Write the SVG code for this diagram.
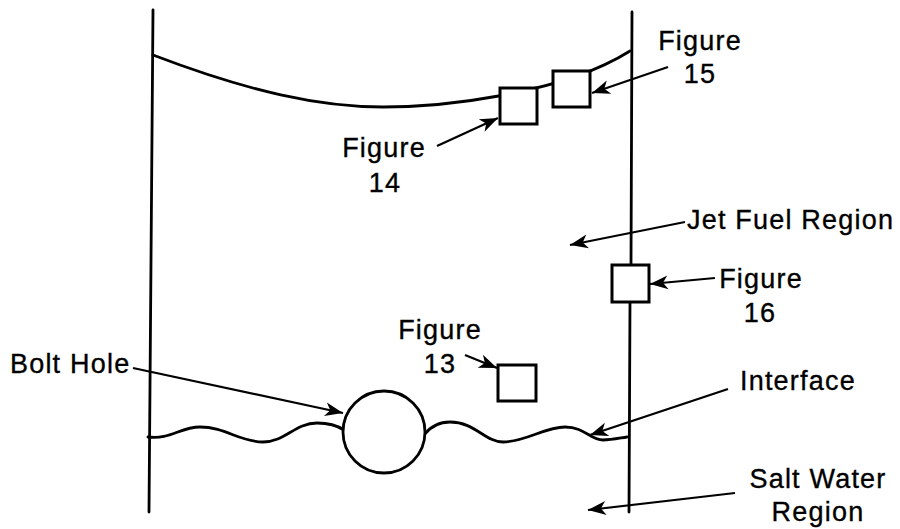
<svg xmlns="http://www.w3.org/2000/svg" width="900" height="529" viewBox="0 0 900 529">
<defs>
<style>
.ln{fill:none;stroke:#000;stroke-width:2.8;stroke-linecap:round}
.box{fill:#fff;stroke:#000;stroke-width:3}
.ar{fill:none;stroke:#000;stroke-width:2.2;marker-end:url(#ah)}
text{font-family:"Liberation Sans",Arial,sans-serif;font-size:27px;letter-spacing:1.2px;fill:#000;stroke:#000;stroke-width:0.35}
.m{text-anchor:middle}
</style>
<marker id="ah" viewBox="-19 -8 20 16" refX="0" refY="0" markerWidth="20" markerHeight="16" markerUnits="userSpaceOnUse" orient="auto">
<path d="M0,0 L-18,-7 L-13,0 L-18,7 Z" fill="#000"/>
</marker>
</defs>
<rect width="900" height="529" fill="#fff"/>
<g id="tank">
<path class="ln" d="M153,10 L149,512"/>
<path class="ln" d="M632,12 L631,265 M630,302 L629,512"/>
<path class="ln" d="M153,55 C250,92 320,107 383,107 C440,107 560,95 630,51"/>
<path class="ln" d="M148,437 C170,440 180,427 200,427 C225,427 240,442 263,442 C285,442 295,423 317,423 C330,423 338,426 344,430"/>
<path class="ln" d="M425,434 C432,425 440,422 450,422 C475,422 485,442 503,442 C525,442 545,427 565,427 C585,427 590,440 603,440 C612,440 620,438 627,437"/>
</g>
<g id="bolt-hole-circle"><circle cx="384" cy="432" r="41" fill="#fff" stroke="#000" stroke-width="2.8"/></g>
<g id="box14"><rect class="box" x="500" y="88" width="37" height="36"/></g>
<g id="box15"><rect class="box" x="553" y="71" width="37" height="36"/></g>
<g id="box16"><rect class="box" x="612" y="265" width="37" height="37"/></g>
<g id="box13"><rect class="box" x="498" y="365" width="38" height="36"/></g>
<g id="connectors">
<line class="ar" x1="437" y1="146" x2="498" y2="118"/>
<line class="ar" x1="668" y1="67" x2="592" y2="93"/>
<line class="ar" x1="685" y1="222" x2="570" y2="245"/>
<line class="ar" x1="715" y1="278" x2="650" y2="284"/>
<line class="ar" x1="465" y1="355" x2="497" y2="368"/>
<line class="ar" x1="133" y1="368" x2="343" y2="413"/>
<line class="ar" x1="728" y1="389" x2="590" y2="435"/>
<line class="ar" x1="735" y1="493" x2="588" y2="510"/>
</g>
<g id="label14"><text class="m" x="384" y="157">Figure</text><text class="m" x="385" y="192">14</text></g>
<g id="label15"><text class="m" x="700" y="50">Figure</text><text class="m" x="700" y="83">15</text></g>
<g id="label-jet"><text x="687" y="229">Jet Fuel Region</text></g>
<g id="label16"><text class="m" x="761" y="288">Figure</text><text class="m" x="760" y="322">16</text></g>
<g id="label13"><text class="m" x="440" y="339">Figure</text><text class="m" x="440" y="373">13</text></g>
<g id="label-bolt"><text x="10" y="373">Bolt Hole</text></g>
<g id="label-interface"><text x="740" y="390">Interface</text></g>
<g id="label-salt"><text class="m" x="818" y="488">Salt Water</text><text class="m" x="818" y="521">Region</text></g>
</svg>
